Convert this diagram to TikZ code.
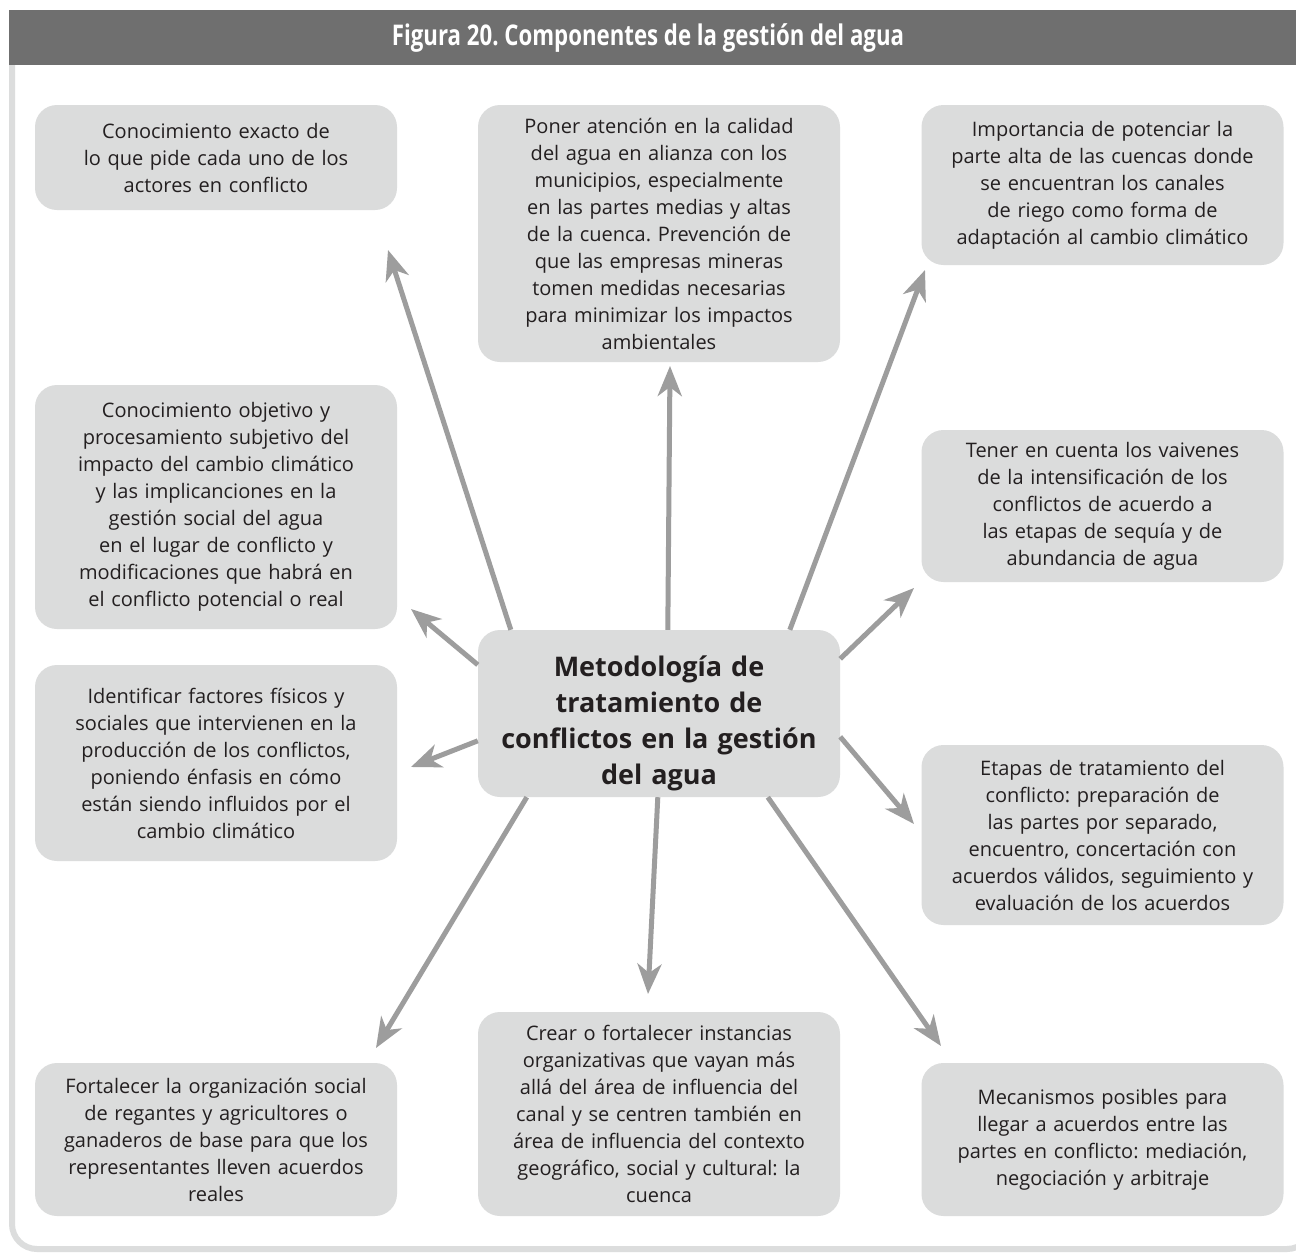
\documentclass[tikz,border=0pt]{standalone}
\usepackage{fontspec}
\setmainfont{Open Sans}
\newfontfamily\titlefont[FakeStretch=0.78]{Open Sans}
\usetikzlibrary{arrows.meta,calc}
\definecolor{bandgray}{HTML}{6F6F6F}
\definecolor{boxgray}{HTML}{DBDCDC}
\definecolor{linkgray}{HTML}{9D9D9D}
\definecolor{framegray}{HTML}{DCDDDD}
\definecolor{inkdark}{HTML}{231F20}
\frenchspacing
\begin{document}
\begin{tikzpicture}[x=1pt,y=-1pt,
  card/.style={fill=boxgray, rounded corners=22pt, minimum width=362pt, inner sep=0pt,
    text width=354pt, align=center, text=inkdark, font=\fontsize{20}{27}\selectfont},
  hub/.style={card, font=\bfseries\fontsize{27}{36}\selectfont},
  link/.style={draw=linkgray, line width=5pt, -{Stealth[length=30pt,width=24pt,inset=9pt]}}]
\useasboundingbox (0,0) rectangle (1296,1253);
\clip (0,0) rectangle (1296,1253);
\fill[white] (0,0) rectangle (1296,1253);
% outer frame and title band
\draw[framegray, line width=6pt, rounded corners=25pt] (12,40) rectangle (1312,1249);
\fill[bandgray] (9,10) rectangle (1296,65);
\node[text=white, font=\titlefont\bfseries\fontsize{28.5}{32}\selectfont] (title) at (648,38)
  {Figura 20. Componentes de la gestión del agua};

% central node; the strut lowers the text block a little inside the box
\node[hub, minimum height=167pt] (hub) at (659,713.5)
  {\rule{0pt}{41pt}Metodología de\\tratamiento de\\conflictos en la gestión\\del agua};

% surrounding cards
\node[card, minimum height=105pt] (k1) at (216,157.5)
  {Conocimiento exacto de\\lo que pide cada uno de los\\actores en conflicto};
\node[card, minimum height=257pt] (k2) at (659,233.5)
  {Poner atención en la calidad\\del agua en alianza con los\\municipios, especialmente\\en las partes medias y altas\\de la cuenca. Prevención de\\que las empresas mineras\\tomen medidas necesarias\\para minimizar los impactos\\ambientales};
\node[card, minimum height=160pt] (k3) at (1102.5,185)
  {Importancia de potenciar la\\parte alta de las cuencas donde\\se encuentran los canales\\de riego como forma de\\adaptación al cambio climático};
\node[card, minimum height=244pt] (k4) at (216,507)
  {Conocimiento objetivo y\\procesamiento subjetivo del\\impacto del cambio climático\\y las implicanciones en la\\gestión social del agua\\en el lugar de conflicto y\\modificaciones que habrá en\\el conflicto potencial o real};
\node[card, minimum height=152pt] (k5) at (1102.5,506)
  {Tener en cuenta los vaivenes\\de la intensificación de los\\conflictos de acuerdo a\\las etapas de sequía y de\\abundancia de agua};
\node[card, minimum height=196pt] (k6) at (216,763)
  {Identificar factores físicos y\\sociales que intervienen en la\\producción de los conflictos,\\poniendo énfasis en cómo\\están siendo influidos por el\\cambio climático};
\node[card, minimum height=180pt] (k7) at (1102.5,835)
  {Etapas de tratamiento del\\conflicto: preparación de\\las partes por separado,\\encuentro, concertación con\\acuerdos válidos, seguimiento y\\evaluación de los acuerdos};
\node[card, minimum height=153pt] (k8) at (216,1139.5)
  {Fortalecer la organización social\\de regantes y agricultores o\\ganaderos de base para que los\\representantes lleven acuerdos\\reales};
\node[card, minimum height=204pt] (k9) at (659,1114)
  {Crear o fortalecer instancias\\organizativas que vayan más\\allá del área de influencia del\\canal y se centren también en\\área de influencia del contexto\\geográfico, social y cultural: la\\cuenca};
\node[card, minimum height=153pt] (k10) at (1102.5,1139.5)
  {Mecanismos posibles para\\llegar a acuerdos entre las\\partes en conflicto: mediación,\\negociación y arbitraje};

% arrow tips, just short of each card
\coordinate (t1) at (388,250);
\coordinate (t2) at (670,366);
\coordinate (t3) at (925,270);
\coordinate (t4) at (411,609);
\coordinate (t5) at (914,588);
\coordinate (t6) at (411,767);
\coordinate (t7) at (914,824);
\coordinate (t8) at (376,1048);
\coordinate (t9) at (648,994);
\coordinate (t10) at (941,1046);

% connectors leaving the central node
\draw[link] ($(hub.north west)+(33,0)$) -- (t1);
\draw[link] ($(hub.north west)+(190,0)$) -- (t2);
\draw[link] ($(hub.north west)+(312,0)$) -- (t3);
\draw[link] ($(hub.north west)+(0,35)$) -- (t4);
\draw[link] ($(hub.north east)+(0,29)$) -- (t5);
\draw[link] ($(hub.north west)+(0,111)$) -- (t6);
\draw[link] ($(hub.north east)+(0,107)$) -- (t7);
\draw[link] ($(hub.south west)+(49,0)$) -- (t8);
\draw[link] ($(hub.south west)+(180,0)$) -- (t9);
\draw[link] ($(hub.south west)+(290,0)$) -- (t10);
\end{tikzpicture}
\end{document}
